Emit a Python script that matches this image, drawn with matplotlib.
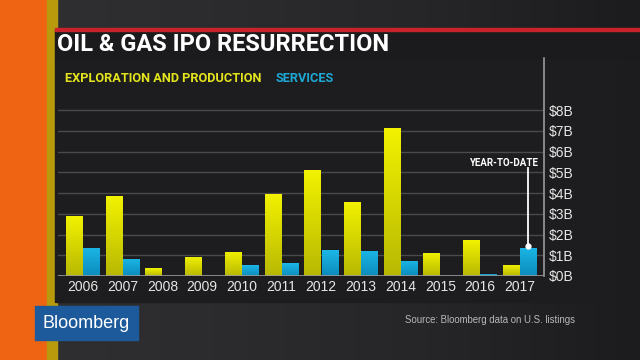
import matplotlib
matplotlib.use("Agg")
import matplotlib.pyplot as plt
import numpy as np
from matplotlib.patches import Rectangle
from matplotlib.colors import LinearSegmentedColormap
from matplotlib import font_manager as fm

years = ["2006", "2007", "2008", "2009", "2010", "2011", "2012", "2013", "2014", "2015", "2016", "2017"]
exploration = [2.88, 3.84, 0.37, 0.93, 1.17, 3.97, 5.11, 3.57, 7.15, 1.12, 1.73, 0.55]
services = [1.35, 0.82, 0.0, 0.0, 0.53, 0.61, 1.25, 1.22, 0.74, 0.0, 0.10, 1.35]
ytick_vals = [0, 1, 2, 3, 4, 5, 6, 7, 8]
ytick_labels = ["$0B", "$1B", "$2B", "$3B", "$4B", "$5B", "$6B", "$7B", "$8B"]

names = {f.name for f in fm.fontManager.ttflist}
narrow = "Liberation Sans Narrow" if "Liberation Sans Narrow" in names else "Roboto"
plain = "Liberation Sans"

W, H = 640, 360
fig = plt.figure(figsize=(6.4, 3.6), dpi=100)
fig.patch.set_facecolor("#2b2b2d")

bg = fig.add_axes([0, 0, 1, 1])
bg.set_xlim(0, W)
bg.set_ylim(H, 0)
bg.axis("off")
grad = np.linspace(0, 1, 256)[None, :]
bg.imshow(np.vstack([grad] * 2), extent=[0, W, H, 0], cmap=LinearSegmentedColormap.from_list(
    "g", ["#303032", "#2c2c2e", "#262628", "#1c1c1e"]), aspect="auto", zorder=0)
bg.add_patch(Rectangle((0, 0), 47, H, color="#ee6412", zorder=1))
bg.add_patch(Rectangle((47, 0), 10, H, color="#b89a0c", zorder=1))
bg.add_patch(Rectangle((55, 58), 542, 244, color="#1d1d1f", zorder=1))
bg.add_patch(Rectangle((55, 30), W - 55, 28, color="#1b1b1d", zorder=2))
bg.add_patch(Rectangle((55, 28), W - 55, 2.5, color="#c8232b", zorder=3))
bg.text(57, 44.5, "OIL & GAS IPO RESURRECTION", color="white", fontsize=17,
        fontweight="bold", family=narrow, va="center", ha="left", zorder=4)
bg.text(65, 78, "EXPLORATION AND PRODUCTION", color="#e4e41e", fontsize=9.2,
        fontweight="bold", family=narrow, va="center", ha="left", zorder=4)
bg.text(276, 78, "SERVICES", color="#1ea8d6", fontsize=9.2,
        fontweight="bold", family=narrow, va="center", ha="left", zorder=4)
bg.add_patch(Rectangle((35, 306), 103, 34, color="#1d5a9c", zorder=4))
bg.text(42, 323, "Bloomberg", color="white", fontsize=13, family=plain,
        va="center", ha="left", zorder=5)
bg.text(575, 320, "Source: Bloomberg data on U.S. listings", color="#b8b8b8",
        fontsize=6.9, family=plain, va="center", ha="right", zorder=5)

x0, x1 = 58, 543.5
ybase, ytop = 276, 58
ax = fig.add_axes([x0 / W, (H - ybase) / H, (x1 - x0) / W, (ybase - ytop) / H])
ax.patch.set_alpha(0)
px_per_b = (276 - 110) / 8.0
ymax = (ybase - ytop) / px_per_b
xs = np.arange(len(years))
bw = 0.42
for v in ytick_vals[1:]:
    ax.axhline(v, color="#4a4a4c", lw=1.0, zorder=1)
ax.axhline(0, color="#9a9a9a", lw=1.2, zorder=3)

ycmap = LinearSegmentedColormap.from_list("y", ["#b8b804", "#f2f200"])
bcmap = LinearSegmentedColormap.from_list("b", ["#0a8cbc", "#1cb6e6"])
vgrad = np.linspace(0, 1, 256)[:, None]


def grad_bars(xpos, vals, cmap):
    bars = ax.bar(xpos, vals, width=bw, color="none", zorder=2)
    for b in bars:
        h = b.get_height()
        if h <= 0:
            continue
        im = ax.imshow(vgrad, extent=[b.get_x(), b.get_x() + b.get_width(), 0, h],
                       origin="lower", cmap=cmap, aspect="auto", zorder=2)
        im.set_clip_path(b)


grad_bars(xs - bw / 2 - 0.008, exploration, ycmap)
grad_bars(xs + bw / 2 + 0.008, services, bcmap)
ax.set_xlim(-0.63, len(years) - 1 + 0.60)
ax.set_ylim(0, ymax)

for s in ["top", "left", "bottom"]:
    ax.spines[s].set_visible(False)
ax.spines["right"].set_color("#9a9a9a")
ax.spines["right"].set_linewidth(1.2)
ax.yaxis.tick_right()
ax.set_yticks(ytick_vals)
ax.set_yticklabels(ytick_labels, family=plain, fontsize=10, color="#e6e6e6")
ax.tick_params(axis="y", length=0, pad=4)
ax.set_xticks(xs)
ax.set_xticklabels(years, family=plain, fontsize=10, color="#e6e6e6")
ax.tick_params(axis="x", length=0, pad=3)

xa = xs[-1] + bw / 2 + 0.008
ax.plot([xa, xa], [services[-1] + 0.08, 5.2], color="white", lw=1.3, zorder=4)
ax.plot([xa], [services[-1] + 0.08], "o", color="white", ms=3.5, zorder=5)
ax.text(xa + 0.25, 5.45, "YEAR-TO-DATE", color="white", fontsize=7, fontweight="bold",
        family=narrow, ha="right", va="center", zorder=5)

fig.savefig("out.png", dpi=100, facecolor=fig.get_facecolor())
